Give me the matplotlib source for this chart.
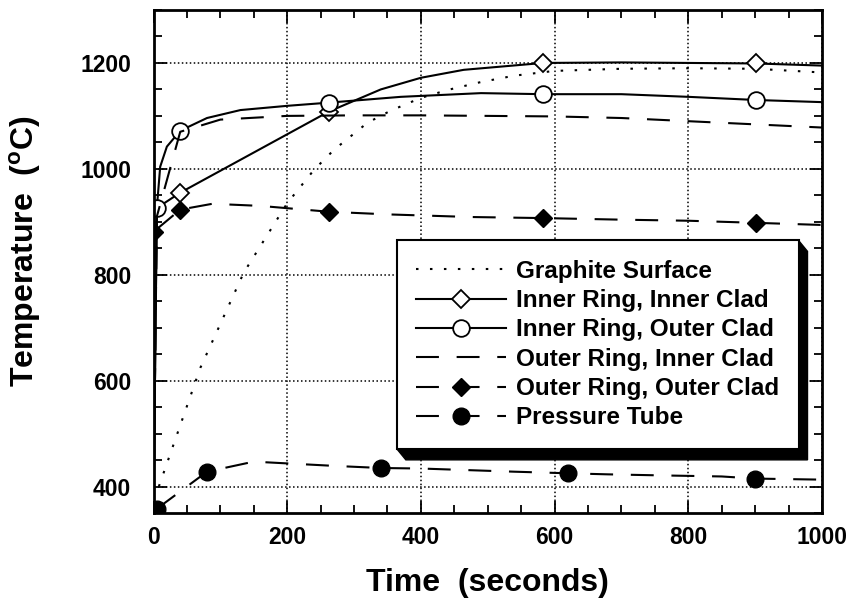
import matplotlib
matplotlib.use("Agg")
import matplotlib.pyplot as plt
from matplotlib.patches import Polygon
from matplotlib.ticker import MultipleLocator

# --------------------------------------------------
# DATA
# --------------------------------------------------

graphite_t = [8, 70, 135, 200, 240, 270, 320, 355, 400, 440, 490, 540, 600, 700, 800, 900, 1000]
graphite_T = [400, 624, 804, 935, 998, 1036, 1087, 1110, 1134, 1149, 1164, 1176, 1185, 1189, 1190, 1189, 1182]

ii_t = [0, 5, 40, 262, 340, 400, 464, 583, 700, 902, 1000]
ii_T = [350, 926, 955, 1108, 1150, 1172, 1187, 1200, 1201, 1199, 1195]
ii_marks = [2, 3, 7, 9]

io_t = [0, 5, 10, 20, 40, 80, 130, 200, 262, 370, 490, 583, 700, 800, 902, 1000]
io_T = [350, 926, 1004, 1042, 1072, 1096, 1111, 1119, 1125, 1136, 1143, 1141, 1141, 1136, 1130, 1126]
io_marks = [1, 4, 8, 11, 14]

oi_t = [0, 5, 40, 100, 200, 300, 400, 500, 600, 700, 800, 900, 1000]
oi_T = [350, 910, 1070, 1093, 1100, 1101, 1101, 1100, 1099, 1096, 1090, 1084, 1078]

oo_t = [0, 0, 40, 88, 160, 262, 350, 475, 583, 700, 800, 902, 1000]
oo_T = [350, 881, 923, 934, 930, 919, 914, 909, 907, 904, 902, 898, 894]
oo_marks = [1, 2, 5, 8, 11]

pt_t = [5, 80, 150, 210, 270, 340, 400, 470, 540, 620, 680, 760, 850, 900, 1000]
pt_T = [358, 428, 447, 443, 439, 435, 434, 431, 428, 425, 423, 421, 419, 415, 413]
pt_marks = [0, 1, 5, 9, 13]

labels = ["Graphite Surface", "Inner Ring, Inner Clad", "Inner Ring, Outer Clad",
          "Outer Ring, Inner Clad", "Outer Ring, Outer Clad", "Pressure Tube"]

# --------------------------------------------------
# STYLE
# --------------------------------------------------

plt.rcParams["font.family"] = ["Liberation Sans", "DejaVu Sans"]
plt.rcParams["font.weight"] = "bold"
plt.rcParams["mathtext.fontset"] = "custom"
plt.rcParams["mathtext.rm"] = "Liberation Sans:bold"
plt.rcParams["mathtext.bf"] = "Liberation Sans:bold"

DASH = (0, (11, 8.5))
DOT = (0, (1.2, 5.5))
LW = 1.5


def main():
    fig = plt.figure(figsize=(8.51, 6.01), dpi=100)
    ax = fig.add_axes([153.5 / 851, 1 - 513 / 601, 668.5 / 851, 503 / 601])

    ax.plot(graphite_t, graphite_T, color="black", lw=LW, ls=DOT, label=labels[0])
    ax.plot(ii_t, ii_T, color="black", lw=LW, ls="-", marker="D", ms=9,
            mfc="white", mec="black", mew=1.3, markevery=ii_marks, label=labels[1])
    ax.plot(io_t, io_T, color="black", lw=LW, ls="-", marker="o", ms=12,
            mfc="white", mec="black", mew=1.3, markevery=io_marks, label=labels[2])
    ax.plot(oi_t, oi_T, color="black", lw=LW, ls=DASH, label=labels[3])
    ax.plot(oo_t, oo_T, color="black", lw=LW, ls=DASH, marker="D", ms=9,
            mfc="black", mec="black", markevery=oo_marks, label=labels[4])
    ax.plot(pt_t, pt_T, color="black", lw=LW, ls=DASH, marker="o", ms=12,
            mfc="black", mec="black", markevery=pt_marks, label=labels[5])

    ax.set_xlim(0, 1000)
    ax.set_ylim(350, 1300)
    ax.xaxis.set_major_locator(MultipleLocator(200))
    ax.xaxis.set_minor_locator(MultipleLocator(50))
    ax.set_yticks([400, 600, 800, 1000, 1200])
    ax.yaxis.set_minor_locator(MultipleLocator(50))

    ax.grid(True, which="major", color="black", ls=(0, (1, 1.6)), lw=1.1)

    ax.tick_params(which="both", direction="in", top=True, right=True,
                   width=1.3, color="black")
    ax.tick_params(which="major", length=9)
    ax.tick_params(which="minor", length=6)
    ax.tick_params(axis="x", labelsize=16.5, pad=9)
    ax.tick_params(axis="y", labelsize=16.5, pad=16)
    for lab in ax.get_xticklabels() + ax.get_yticklabels():
        lab.set_fontweight("bold")

    for sp in ax.spines.values():
        sp.set_linewidth(2)

    ax.set_xlabel("Time  (seconds)", fontsize=23, fontweight="bold", labelpad=14)
    ax.set_ylabel(r"Temperature  ($^{\mathrm{o}}$C)", fontsize=23, fontweight="bold")
    ax.yaxis.set_label_coords(-0.165, 0.52)

    leg = ax.legend(loc="upper left", bbox_to_anchor=(0.364, 0.542), borderaxespad=0,
                    fontsize=17.5, frameon=True, fancybox=False, framealpha=1,
                    edgecolor="black", handlelength=3.7, handletextpad=0.4,
                    labelspacing=0.26, borderpad=0.8)
    leg.get_frame().set_linewidth(1.5)
    for t in leg.get_texts():
        t.set_fontweight("bold")
    leg.set_zorder(5)

    # drop shadow behind the legend box
    fig.canvas.draw()
    bb = leg.get_window_extent().transformed(fig.transFigure.inverted())
    dx, dy = 9 / 851, 11 / 601
    L, B, R, T = bb.x0, bb.y0, bb.x1, bb.y1
    shadow = Polygon([(L, B), (L + dx, B - dy), (R + dx, B - dy), (R + dx, T - dy), (R, T)],
                     closed=True, transform=fig.transFigure, facecolor="black",
                     edgecolor="black", zorder=4, clip_on=False)
    ax.add_artist(shadow)

    fig.savefig("out.png", dpi=100)
    plt.close(fig)


if __name__ == "__main__":
    main()
